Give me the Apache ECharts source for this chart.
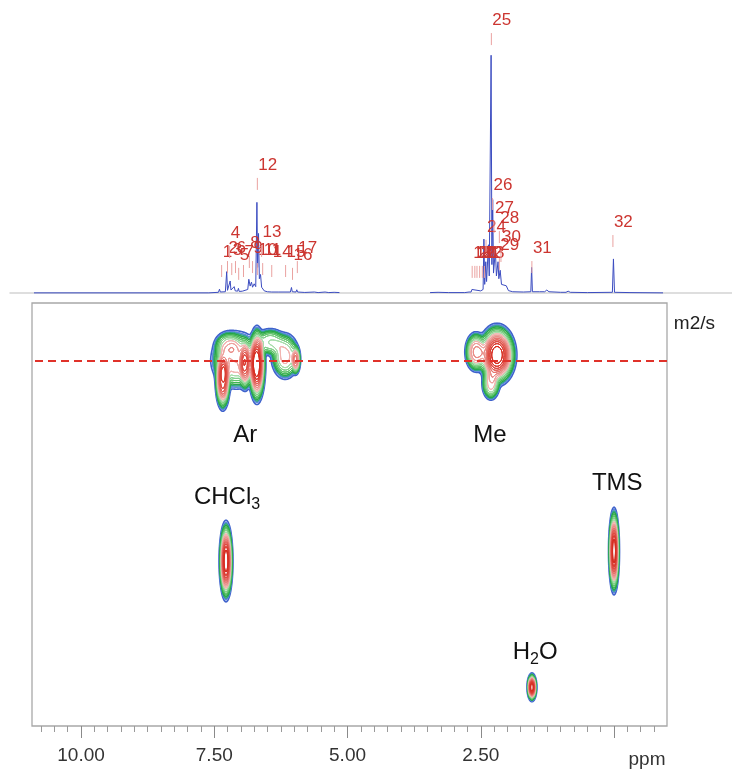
<!DOCTYPE html>
<html>
<head>
<meta charset="utf-8">
<script src="https://cdn.jsdelivr.net/npm/echarts@6/dist/echarts.min.js"></script>
<style>
  html, body { margin: 0; padding: 0; background: #ffffff; }
  #chart { width: 732px; height: 770px; }
</style>
</head>
<body>
<div id="chart"></div>
<script>
// ---- 1H trace: [chemical shift (ppm), intensity (% of the tallest line)] ----
const spectrum = [
  [10.88, 0], [7.60, 0], [7.42, 0.2], [7.40, 1.3], [7.385, 0.3], [7.29, 0.4],
  [7.265, 7.5], [7.25, 0.9], [7.215, 1.0], [7.20, 4.2], [7.185, 1.0], [7.15, 0.6],
  [7.125, 2.2], [7.105, 0.7], [7.06, 0.6], [7.045, 1.6], [7.03, 0.5], [6.97, 0.6],
  [6.955, 1.3], [6.94, 0.8], [6.87, 1.2], [6.85, 4.8], [6.825, 2.4], [6.80, 3.8],
  [6.78, 2.0], [6.75, 3.2], [6.72, 2.2], [6.698, 32], [6.685, 9], [6.668, 21],
  [6.652, 5], [6.63, 6.5], [6.61, 2], [6.585, 2.4], [6.56, 0.7], [6.50, 0.4],
  [6.42, 0.3], [6.40, 1.0], [6.385, 0.3], [6.30, 0.3], [6.285, 0.9], [6.27, 0.3],
  [6.07, 0.3], [6.05, 1.9], [6.035, 0.4], [5.965, 0.3], [5.95, 1.1], [5.935, 0.3],
  [5.80, 0.15], [5.62, 0.3], [5.55, 0.1], [5.42, 0.3], [5.35, 0.1], [5.25, 0.2],
  [5.15, 0.1], [5.10, null],
  [3.45, 0.1], [3.30, 0.2], [3.10, 0.1], [2.80, 0.1], [2.72, 0.3], [2.68, 0.3],
  [2.665, 1.2], [2.65, 0.5], [2.50, 0.7], [2.455, 1.2], [2.44, 19], [2.425, 3],
  [2.405, 11], [2.39, 4], [2.355, 17], [2.34, 6], [2.305, 84], [2.29, 10],
  [2.275, 33], [2.26, 7], [2.225, 15], [2.205, 6], [2.175, 11], [2.16, 5],
  [2.135, 8], [2.11, 3], [2.08, 3.2], [2.02, 2.5], [1.98, 0.8], [1.90, 0.4],
  [1.70, 0.3], [1.56, 0.4], [1.545, 9], [1.53, 0.4], [1.40, 0.4], [1.30, 0.4],
  [1.26, 1.0], [1.22, 0.4], [1.00, 0.2], [0.90, 0.2], [0.86, 0.6], [0.82, 0.2],
  [0.50, 0.1], [0.03, 0.2], [0.01, 12], [-0.01, 0.2], [-0.30, 0.1], [-0.92, 0]
];

// ---- Peak picks: [shift ppm, marker base (intensity units), peak number] ----
const peakPicks = [
  [7.36, 5.6, 1], [7.25, 7.0, 2], [7.17, 6.3, 3], [7.21, 12.3, 4], [7.04, 4.6, 5],
  [7.10, 7.0, 6], [6.95, 5.6, 7], [6.84, 8.8, 8], [6.78, 7.0, 9], [6.69, 6.3, 10],
  [6.59, 6.3, 11], [6.69, 36.4, 12], [6.61, 12.7, 13], [6.42, 5.6, 14], [6.16, 5.6, 15],
  [6.03, 4.6, 16], [5.94, 7.0, 17],
  [2.66, 5.3, 18], [2.61, 5.3, 19], [2.57, 5.3, 20], [2.52, 5.3, 21], [2.47, 5.3, 22],
  [2.43, 5.3, 23], [2.40, 14.5, 24], [2.30, 87.6, 25], [2.28, 29.3, 26], [2.25, 21.2, 27],
  [2.15, 17.6, 28], [2.15, 8.1, 29], [2.12, 10.9, 30], [1.54, 7.0, 31], [0.02, 16.2, 32]
];

// ---- DOSY cross peaks: [shift ppm, log10 D, spread ppm, spread log D, relative amplitude] ----
const crossPeaks = [
  // aromatic region
  [6.70, -9.695, 0.084, 0.066, 1.00],
  [7.34, -9.645, 0.075, 0.053, 0.80],
  [7.09, -9.711, 0.263, 0.053, 0.40],
  [6.92, -9.695, 0.066, 0.046, 0.50],
  [6.17, -9.724, 0.150, 0.043, 0.35],
  [5.97, -9.711, 0.047, 0.026, 0.50],
  [6.45, -9.771, 0.169, 0.026, 0.25],
  [7.24, -9.761, 0.150, 0.026, 0.20],
  // methyl region
  [2.195, -9.728, 0.188, 0.053, 1.00],
  [2.59, -9.738, 0.113, 0.036, 0.50],
  [2.31, -9.632, 0.094, 0.030, 0.35],
  // solvent, reference and water
  [7.28, -9.046, 0.066, 0.068, 1.00],
  [0.00, -9.079, 0.052, 0.073, 1.00],
  [1.54, -8.628, 0.047, 0.024, 1.00]
];

// ---- Compound annotations in the 2D plane ----
const compoundNames = ['Ar', 'Me', 'CHCl3', 'TMS', 'H2O'];
const compoundPpm = [6.92, 2.33, 7.26, -0.06, 1.48];
const compoundLogD = [-9.463, -9.463, -9.258, -9.304, -8.744];

// Diffusion coefficient of the main species (dashed guide)
const referenceLogD = -9.711;

// Axis ticks
const ppmLabelTicks = [10, 7.5, 5, 2.5];
const ppmMajorTicks = [10, 7.5, 5, 2.5, 0];
const ppmMinorTicks = [];
for (let k = -3; k <= 43; k++) {
  if (k % 10 !== 0) ppmMinorTicks.push(k * 0.25);
}

// Contour thresholds (fraction of peak maximum) and their colours, outer to inner
const contourLevels = [0.02, 0.035, 0.05, 0.07, 0.1, 0.14, 0.19, 0.25, 0.32, 0.4, 0.48, 0.57, 0.66, 0.75, 0.84, 0.93];
const contourColors = ['#3f62cc', '#5a86dc', '#2fa38a', '#27a545', '#3fb553', '#5fc46b', '#82d08a',
  '#a6ddaa', '#f2b4b0', '#eea19c', '#ea8a84', '#e6736c', '#e35d55', '#df4940', '#db3a2f', '#d72c20'];

// ---- Axis ranges ----
const ppmMin2D = -0.994, ppmMax2D = 10.92;
const logDMin = -9.9, logDMax = -8.5;
const ppmMin1D = -2.214, ppmMax1D = 11.33;

// ---- Build the 2D intensity surface and trace its iso-lines ----
const NX = 1270, NY = 846, W = NX + 1;
const gx = (ppmMax2D - ppmMin2D) / NX, gy = (logDMax - logDMin) / NY;
const surface = new Float32Array(W * (NY + 1));
const SHAPE_POWER = 1.5;
crossPeaks.forEach(([cx, cy, sx, sy, amp]) => {
  const i0 = Math.max(0, Math.floor((cx - 3.5 * sx - ppmMin2D) / gx));
  const i1 = Math.min(NX, Math.ceil((cx + 3.5 * sx - ppmMin2D) / gx));
  const j0 = Math.max(0, Math.floor((cy - 3.5 * sy - logDMin) / gy));
  const j1 = Math.min(NY, Math.ceil((cy + 3.5 * sy - logDMin) / gy));
  for (let j = j0; j <= j1; j++) {
    const ty = (logDMin + j * gy - cy) / sy;
    for (let i = i0; i <= i1; i++) {
      const tx = (ppmMin2D + i * gx - cx) / sx;
      const q = tx * tx + ty * ty;
      surface[j * W + i] += amp * Math.exp(-0.5 * Math.pow(q, SHAPE_POWER));
    }
  }
});

// edge pairs crossed for each marching-squares case
const SEG = [[], [3, 0], [0, 1], [3, 1], [1, 2], [0, 1, 2, 3], [0, 2], [3, 2],
  [2, 3], [0, 2], [3, 0, 1, 2], [1, 2], [1, 3], [0, 1], [3, 0], []];

function traceLevel(L) {
  const out = [];
  for (let j = 0; j < NY; j++) {
    const y = logDMin + j * gy;
    for (let i = 0; i < NX; i++) {
      const v0 = surface[j * W + i], v1 = surface[j * W + i + 1];
      const v2 = surface[(j + 1) * W + i + 1], v3 = surface[(j + 1) * W + i];
      const c = (v0 > L ? 1 : 0) | (v1 > L ? 2 : 0) | (v2 > L ? 4 : 0) | (v3 > L ? 8 : 0);
      if (c === 0 || c === 15) continue;
      const x = ppmMin2D + i * gx;
      const edge = (k) => {
        let t;
        if (k === 0) { t = (L - v0) / (v1 - v0); return [x + t * gx, y]; }
        if (k === 1) { t = (L - v1) / (v2 - v1); return [x + gx, y + t * gy]; }
        if (k === 2) { t = (L - v3) / (v2 - v3); return [x + t * gx, y + gy]; }
        t = (L - v0) / (v3 - v0); return [x, y + t * gy];
      };
      const pairs = SEG[c];
      for (let k = 0; k < pairs.length; k += 2) {
        const a = edge(pairs[k]), b = edge(pairs[k + 1]);
        out.push(a[0], a[1], b[0], b[1]);
      }
    }
  }
  return out;
}
const levelSegments = contourLevels.map(traceLevel);

const FONT = 'Liberation Sans, Arial, Helvetica, sans-serif';

const chart = echarts.init(document.getElementById('chart'), null, { renderer: 'canvas' });

chart.setOption({
  animation: false,
  backgroundColor: '#ffffff',
  // unit of the diffusion axis, beside the top-right corner of the 2D frame
  title: {
    text: 'm2/s', right: 17, top: 314, padding: 0,
    textStyle: { fontSize: 19, fontWeight: 'normal', color: '#222', fontFamily: FONT }
  },
  grid: [
    { left: 10, right: 0, top: 10, bottom: 476 },
    { left: 32, right: 65, top: 303, bottom: 44, show: true, borderColor: '#a8a8a8', borderWidth: 1.3, backgroundColor: 'transparent' }
  ],
  xAxis: [
    {
      gridIndex: 0, type: 'value', min: ppmMin1D, max: ppmMax1D, inverse: true,
      axisLine: { show: true, lineStyle: { color: '#d4d4d4', width: 1.5 } },
      axisTick: { show: false }, axisLabel: { show: false }, splitLine: { show: false }
    },
    {
      gridIndex: 1, type: 'value', min: ppmMin2D, max: ppmMax2D, inverse: true, position: 'bottom',
      axisLine: { show: false },
      axisTick: { show: true, length: 12, customValues: ppmMajorTicks, lineStyle: { color: '#8a8a8a', width: 1 } },
      axisLabel: {
        show: true, customValues: ppmLabelTicks, margin: 20,
        formatter: (v) => Number(v).toFixed(2), fontSize: 19, color: '#333', fontFamily: FONT
      },
      splitLine: { show: false },
      name: 'ppm', nameLocation: 'start', nameGap: -20,
      nameTextStyle: { fontSize: 19, color: '#333', fontFamily: FONT, verticalAlign: 'top', align: 'center', padding: [24, 0, 0, 0] }
    },
    {
      gridIndex: 1, type: 'value', min: ppmMin2D, max: ppmMax2D, inverse: true, position: 'bottom',
      axisLine: { show: false },
      axisTick: { show: true, length: 6, customValues: ppmMinorTicks, lineStyle: { color: '#9a9a9a', width: 1 } },
      axisLabel: { show: false }, splitLine: { show: false }
    }
  ],
  yAxis: [
    { gridIndex: 0, type: 'value', min: -0.4, max: 100, show: false },
    {
      gridIndex: 1, type: 'value', min: logDMin, max: logDMax, inverse: true, position: 'right',
      axisLine: { show: false }, axisTick: { show: false }, axisLabel: { show: false }, splitLine: { show: false }
    }
  ],
  series: [
    {
      name: '1H', type: 'line', xAxisIndex: 0, yAxisIndex: 0,
      data: spectrum, showSymbol: false, symbol: 'none', connectNulls: false, sampling: false,
      lineStyle: { color: '#3b4cc0', width: 1 }, z: 3
    },
    {
      name: 'picks', type: 'custom', xAxisIndex: 0, yAxisIndex: 0,
      data: peakPicks, encode: { x: 0, y: 1 }, z: 4,
      renderItem: (params, api) => {
        const p = api.coord([api.value(0), api.value(1)]);
        return {
          type: 'group',
          children: [
            { type: 'line', shape: { x1: p[0], y1: p[1], x2: p[0], y2: p[1] - 12 }, style: { stroke: '#eaa2a0', lineWidth: 1 } },
            {
              type: 'text', x: p[0] + 1, y: p[1] - 25,
              style: { text: String(api.value(2)), fill: '#cc3530', fontSize: 17, fontFamily: FONT, align: 'left', verticalAlign: 'middle' }
            }
          ]
        };
      }
    },
    {
      name: 'contours', type: 'custom', xAxisIndex: 1, yAxisIndex: 1, clip: true,
      data: contourLevels.map((v) => [v]), z: 2,
      renderItem: (params, api) => {
        const segs = levelSegments[params.dataIndex];
        if (!segs.length) return null;
        const parts = [];
        for (let k = 0; k < segs.length; k += 4) {
          const a = api.coord([segs[k], segs[k + 1]]);
          const b = api.coord([segs[k + 2], segs[k + 3]]);
          parts.push('M' + a[0].toFixed(2) + ' ' + a[1].toFixed(2) + 'L' + b[0].toFixed(2) + ' ' + b[1].toFixed(2));
        }
        return {
          type: 'path',
          shape: { pathData: parts.join('') },
          style: { fill: 'none', stroke: contourColors[params.dataIndex], lineWidth: params.dataIndex === 0 ? 1.6 : 1, lineCap: 'round' }
        };
      }
    },
    {
      name: 'reference', type: 'line', xAxisIndex: 1, yAxisIndex: 1, data: [], z: 5,
      markLine: {
        silent: true, symbol: 'none', label: { show: false },
        lineStyle: { color: '#e0322a', width: 2, type: [8, 5] },
        data: [{ yAxis: referenceLogD }]
      }
    },
    {
      name: 'compounds', type: 'scatter', xAxisIndex: 1, yAxisIndex: 1,
      symbolSize: 1, itemStyle: { color: 'rgba(0,0,0,0)' }, z: 6,
      data: compoundNames.map((n, i) => ({ name: n, value: [compoundPpm[i], compoundLogD[i]] })),
      label: {
        show: true, position: 'inside',
        formatter: (p) => p.name.replace(/(\d)/g, '{s|$1}'),
        fontSize: 24, color: '#111111', fontFamily: FONT, textBorderWidth: 0, opacity: 1,
        rich: { s: { fontSize: 16, color: '#111111', fontFamily: FONT, textBorderWidth: 0, padding: [15, 0, 0, 0] } }
      }
    }
  ]
});
</script>
</body>
</html>
